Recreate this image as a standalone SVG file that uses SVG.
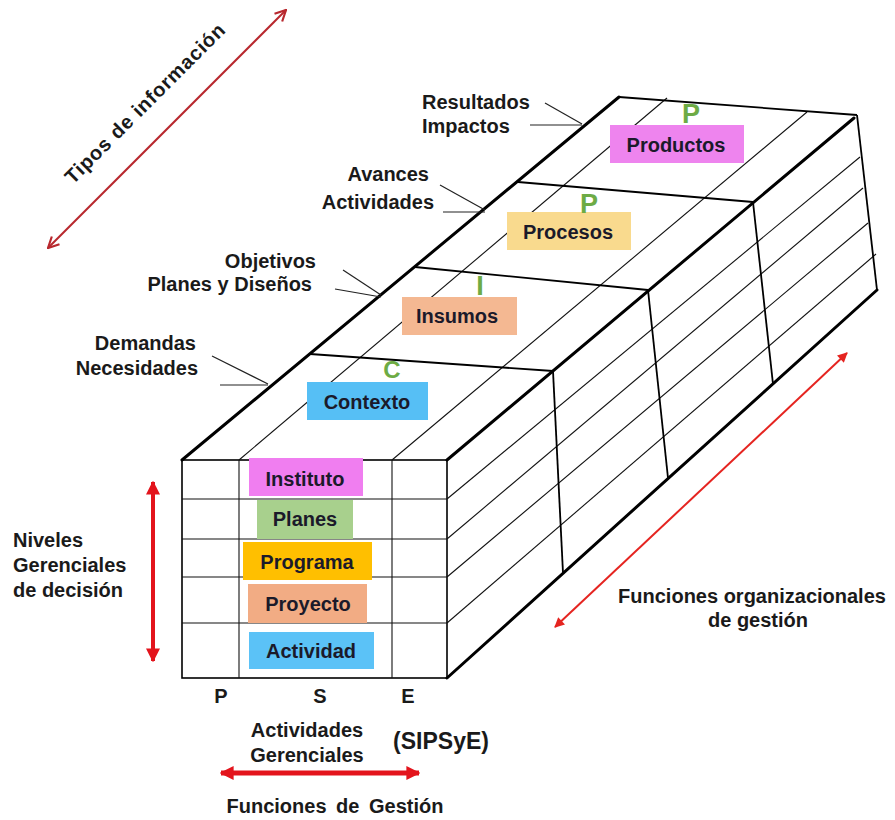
<svg xmlns="http://www.w3.org/2000/svg" width="895" height="820" viewBox="0 0 895 820">
<defs>
<style>
text{font-family:"Liberation Sans",Arial,sans-serif;font-weight:bold;fill:#1a1a1a}
.lbl{font-size:20px}
.box{font-size:20px;fill:#1b1a2a;text-anchor:middle}
.grn{font-size:27px;fill:#6dab45;text-anchor:middle}
.thick{stroke:#000;stroke-width:3;fill:none;stroke-linecap:round}
.med{stroke:#000;stroke-width:1.8;fill:none}
.thin{stroke:#111;stroke-width:1.1;fill:none}
.lead{stroke:#222;stroke-width:1.2;fill:none}
</style>
<marker id="vhead" viewBox="0 0 12 12" refX="11" refY="6" markerWidth="13" markerHeight="13" markerUnits="userSpaceOnUse" orient="auto-start-reverse">
<path d="M1,1 L11,6 L1,11" fill="none" stroke="#b8282e" stroke-width="2"/>
</marker>
<marker id="fhead" viewBox="0 0 10 10" refX="9" refY="5" markerWidth="12" markerHeight="10" markerUnits="userSpaceOnUse" orient="auto-start-reverse">
<path d="M0,0 L10,5 L0,10 z" fill="#e52420"/>
</marker>
<marker id="bhead" viewBox="0 0 10 10" refX="9" refY="5" markerWidth="14" markerHeight="14" markerUnits="userSpaceOnUse" orient="auto-start-reverse">
<path d="M0,0 L10,5 L0,10 z" fill="#e3141c"/>
</marker>
</defs>
<rect width="895" height="820" fill="#fff"/>

<g id="cube">
<rect x="182" y="460" width="265" height="218" fill="none" stroke="#000" stroke-width="1.6"/>
<line class="thin" x1="239" y1="460" x2="239" y2="678"/>
<line class="thin" x1="392" y1="460" x2="392" y2="678"/>
<line class="thin" x1="182" y1="499" x2="447" y2="499"/>
<line class="thin" x1="182" y1="539" x2="447" y2="539"/>
<line class="thin" x1="182" y1="577" x2="447" y2="577"/>
<line class="thin" x1="182" y1="623" x2="447" y2="623"/>
<line class="thin" x1="239" y1="460" x2="667" y2="98"/>
<line class="thin" x1="392" y1="460" x2="807" y2="112"/>
<line class="thin" x1="447" y1="499" x2="860" y2="157"/>
<line class="thin" x1="447" y1="539" x2="863" y2="188"/>
<line class="thin" x1="447" y1="577" x2="868" y2="223"/>
<line class="thin" x1="447" y1="623" x2="876" y2="254"/>
<line class="med" x1="310" y1="354" x2="553" y2="371"/>
<line class="med" x1="415" y1="267" x2="648" y2="290"/>
<line class="med" x1="518" y1="182" x2="753" y2="202"/>
<line class="med" stroke-width="1.4" x1="553" y1="371" x2="563" y2="573"/>
<line class="med" stroke-width="1.4" x1="648" y1="290" x2="668" y2="478"/>
<line class="med" stroke-width="1.4" x1="753" y1="202" x2="773" y2="384"/>
<line class="med" stroke-width="2.2" x1="619" y1="97" x2="857" y2="115"/>
<line class="med" stroke-width="2" x1="857" y1="115" x2="877" y2="290"/>
<line class="thick" x1="182" y1="460" x2="619" y2="97"/>
<line class="thick" x1="447" y1="460" x2="854" y2="118"/>
<line class="thick" x1="447" y1="678" x2="877" y2="290"/>
</g>

<g id="connectors">
<line class="lead" x1="545" y1="103" x2="582" y2="124"/>
<line class="lead" x1="530" y1="125" x2="582" y2="125"/>
<line class="lead" x1="440" y1="185" x2="485" y2="210"/>
<line class="lead" x1="443" y1="212" x2="485" y2="212"/>
<line class="lead" x1="343" y1="270" x2="381" y2="295"/>
<line class="lead" x1="335" y1="289" x2="381" y2="297"/>
<line class="lead" x1="212" y1="356" x2="268" y2="384"/>
<line class="lead" x1="220" y1="385" x2="268" y2="385"/>
<line x1="48" y1="248" x2="286" y2="10" stroke="#b8282e" stroke-width="2" marker-start="url(#vhead)" marker-end="url(#vhead)"/>
<line x1="847" y1="353" x2="555" y2="627" stroke="#e52420" stroke-width="2" marker-start="url(#fhead)" marker-end="url(#fhead)"/>
<line x1="153" y1="482" x2="153" y2="661" stroke="#e3141c" stroke-width="4" marker-start="url(#bhead)" marker-end="url(#bhead)"/>
<line x1="221" y1="773" x2="419" y2="773" stroke="#e3141c" stroke-width="5" marker-start="url(#bhead)" marker-end="url(#bhead)"/>
</g>

<g id="productos"><rect x="610" y="125" width="134" height="38" fill="#ee84ee"/><text class="box" x="676" y="152">Productos</text><text class="grn" x="691" y="123">P</text></g>
<g id="procesos"><rect x="507" y="212" width="124" height="38" fill="#f9da8e"/><text class="box" x="568" y="239">Procesos</text><text class="grn" x="589" y="213">P</text></g>
<g id="insumos"><rect x="402" y="297" width="115" height="38" fill="#f4b892"/><text class="box" x="457" y="323">Insumos</text><text class="grn" x="480" y="295">I</text></g>
<g id="contexto"><rect x="307" y="382" width="121" height="38" fill="#56bff5"/><text class="box" x="367" y="409">Contexto</text><text class="grn" x="392" y="378" style="font-size:24px">C</text></g>

<g id="instituto"><rect x="249" y="458" width="114" height="38" fill="#f07ef0"/><text class="box" x="305" y="486">Instituto</text></g>
<g id="planes"><rect x="257" y="500" width="96" height="39" fill="#a8d08d"/><text class="box" x="305" y="526">Planes</text></g>
<g id="programa"><rect x="243" y="542" width="129" height="38" fill="#ffbf00"/><text class="box" x="307" y="569">Programa</text></g>
<g id="proyecto"><rect x="248" y="584" width="119" height="39" fill="#f2ac84"/><text class="box" x="308" y="611">Proyecto</text></g>
<g id="actividad"><rect x="249" y="632" width="125" height="37" fill="#5bc2f7"/><text class="box" x="311" y="658">Actividad</text></g>

<g id="labels">
<text class="lbl" x="422" y="109">Resultados</text>
<text class="lbl" x="422" y="133">Impactos</text>
<text class="lbl" x="429" y="181" text-anchor="end">Avances</text>
<text class="lbl" x="434" y="209" text-anchor="end">Actividades</text>
<text class="lbl" x="316" y="268" text-anchor="end">Objetivos</text>
<text class="lbl" x="312" y="291" text-anchor="end">Planes y Diseños</text>
<text class="lbl" x="196" y="350" text-anchor="end">Demandas</text>
<text class="lbl" x="198" y="375" text-anchor="end">Necesidades</text>
<text class="lbl" transform="translate(150,108) rotate(-45)" text-anchor="middle" letter-spacing="0.8">Tipos de información</text>
<text class="lbl" x="13" y="547">Niveles</text>
<text class="lbl" x="13" y="572">Gerenciales</text>
<text class="lbl" x="13" y="597">de decisión</text>
<text class="lbl" x="752" y="603" text-anchor="middle">Funciones organizacionales</text>
<text class="lbl" x="758" y="627" text-anchor="middle">de gestión</text>
<text class="lbl" x="221" y="703" text-anchor="middle">P</text>
<text class="lbl" x="320" y="703" text-anchor="middle">S</text>
<text class="lbl" x="408" y="703" text-anchor="middle">E</text>
<text class="lbl" x="307" y="737" text-anchor="middle">Actividades</text>
<text class="lbl" x="307" y="762" text-anchor="middle">Gerenciales</text>
<text class="lbl" x="441" y="749" text-anchor="middle" style="font-size:23px">(SIPSyE)</text>
<text class="lbl" x="335" y="813" text-anchor="middle" word-spacing="4">Funciones de Gestión</text>
</g>
</svg>
